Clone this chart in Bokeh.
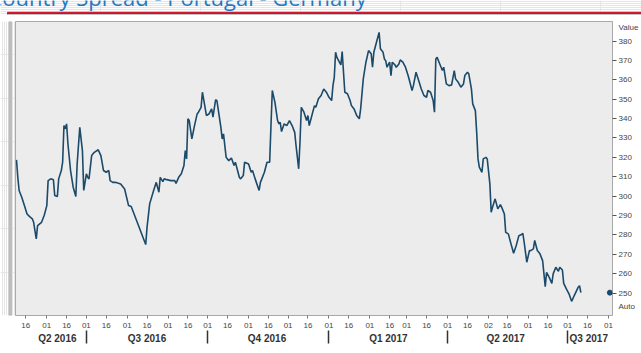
import pandas as pd
from bokeh.plotting import figure
from bokeh.layouts import column, row
from bokeh.models import FixedTicker, DatetimeAxis, Range1d
from bokeh.core.properties import value
from bokeh.embed import file_html
from bokeh.resources import INLINE

# ---- data ----
dates = [
    "2016-05-09", "2016-05-10", "2016-05-11", "2016-05-13", "2016-05-15", "2016-05-17", "2016-05-19",
    "2016-05-21", "2016-05-22", "2016-05-24", "2016-05-25", "2016-05-28", "2016-05-30",
    "2016-06-01", "2016-06-02", "2016-06-04", "2016-06-06", "2016-06-07", "2016-06-09", "2016-06-10",
    "2016-06-12", "2016-06-13", "2016-06-14", "2016-06-15", "2016-06-16", "2016-06-17", "2016-06-19",
    "2016-06-21", "2016-06-23", "2016-06-24", "2016-06-26", "2016-06-28", "2016-06-29",
    "2016-07-01", "2016-07-02", "2016-07-03", "2016-07-05", "2016-07-07", "2016-07-10", "2016-07-12",
    "2016-07-14", "2016-07-16", "2016-07-18", "2016-07-19", "2016-07-21", "2016-07-23", "2016-07-27",
    "2016-07-30", "2016-08-02",
    "2016-08-04", "2016-08-09", "2016-08-15", "2016-08-16", "2016-08-18", "2016-08-21", "2016-08-23",
    "2016-08-25", "2016-08-26", "2016-08-28", "2016-08-29", "2016-08-31",
    "2016-09-03", "2016-09-06", "2016-09-07", "2016-09-09", "2016-09-11", "2016-09-13", "2016-09-14",
    "2016-09-15", "2016-09-16", "2016-09-17", "2016-09-19", "2016-09-21", "2016-09-23", "2016-09-24",
    "2016-09-26", "2016-09-27", "2016-09-29", "2016-09-30",
    "2016-10-02", "2016-10-04", "2016-10-05", "2016-10-07", "2016-10-08", "2016-10-11", "2016-10-12",
    "2016-10-13", "2016-10-15", "2016-10-17", "2016-10-19", "2016-10-21", "2016-10-22", "2016-10-25",
    "2016-10-26", "2016-10-28", "2016-10-29", "2016-11-01",
    "2016-11-03", "2016-11-04", "2016-11-06", "2016-11-09", "2016-11-10", "2016-11-13", "2016-11-15",
    "2016-11-17", "2016-11-18", "2016-11-19", "2016-11-21", "2016-11-23", "2016-11-24", "2016-11-25",
    "2016-11-26", "2016-11-28", "2016-11-30",
    "2016-12-02", "2016-12-04", "2016-12-06", "2016-12-07", "2016-12-09", "2016-12-10", "2016-12-11",
    "2016-12-13", "2016-12-15", "2016-12-16", "2016-12-17", "2016-12-19", "2016-12-21", "2016-12-22",
    "2016-12-24", "2016-12-26", "2016-12-28", "2016-12-30",
    "2017-01-01", "2017-01-03", "2017-01-04", "2017-01-05", "2017-01-06", "2017-01-07", "2017-01-10",
    "2017-01-11", "2017-01-12", "2017-01-13", "2017-01-15", "2017-01-17", "2017-01-18", "2017-01-20",
    "2017-01-22", "2017-01-24", "2017-01-25", "2017-01-27", "2017-01-29", "2017-01-31",
    "2017-02-02", "2017-02-03", "2017-02-04", "2017-02-06", "2017-02-08", "2017-02-09", "2017-02-11",
    "2017-02-12", "2017-02-13", "2017-02-14", "2017-02-16", "2017-02-17", "2017-02-18", "2017-02-20",
    "2017-02-21", "2017-02-23", "2017-02-24", "2017-02-26", "2017-02-28",
    "2017-03-02", "2017-03-05", "2017-03-06", "2017-03-08", "2017-03-10", "2017-03-12", "2017-03-14",
    "2017-03-16", "2017-03-17", "2017-03-19", "2017-03-21", "2017-03-22", "2017-03-23", "2017-03-24",
    "2017-03-26", "2017-03-28", "2017-03-29", "2017-03-31",
    "2017-04-02", "2017-04-04", "2017-04-06", "2017-04-07", "2017-04-09", "2017-04-11", "2017-04-13",
    "2017-04-14", "2017-04-16", "2017-04-17", "2017-04-19", "2017-04-20", "2017-04-22", "2017-04-23",
    "2017-04-24", "2017-04-25", "2017-04-27", "2017-04-28", "2017-04-30",
    "2017-05-01", "2017-05-03", "2017-05-04", "2017-05-05", "2017-05-07", "2017-05-09", "2017-05-11",
    "2017-05-12", "2017-05-14", "2017-05-15", "2017-05-17", "2017-05-19", "2017-05-21", "2017-05-23",
    "2017-05-25", "2017-05-27", "2017-05-28", "2017-05-29", "2017-05-31",
    "2017-06-02", "2017-06-03", "2017-06-05", "2017-06-06", "2017-06-08", "2017-06-10", "2017-06-12",
    "2017-06-14", "2017-06-15", "2017-06-17", "2017-06-19", "2017-06-20", "2017-06-22", "2017-06-24",
    "2017-06-25", "2017-06-27", "2017-06-28", "2017-06-30",
    "2017-07-02", "2017-07-04", "2017-07-06", "2017-07-09", "2017-07-10", "2017-07-11",
]

spread = [
    318.7, 309.7, 302.9, 299.4, 295.1, 290.8, 289.4, 288.3, 286.5, 277.9, 284.8, 286.5, 290,
    295.1, 308, 308.9, 308.4, 300.3, 299.8, 308.9, 313.2, 317.5, 336.4, 334.7, 337.3, 327, 313.2,
    304.6, 299.8, 316.6, 335.5, 323.5, 302.9,
    311.5, 309.7, 308.9, 320.9, 322.6, 323.9, 320.9, 313.2, 312.3, 313.2, 308, 307.1, 307.1, 306.3,
    303.7, 295.1,
    294.6, 285.7, 275, 283.9, 296, 302.9, 307.1, 302, 309.7, 307.5, 308.9, 308.5,
    308, 308, 306.6, 309.7, 311.5, 315.8, 323.5, 319.2, 339.9, 339, 329.5, 336.4, 342.4, 343.3,
    345.8, 353.6, 345.8, 341.6,
    342.4, 345, 340.7, 349.7, 349.3, 335.5, 329.5, 332.1, 320, 318.3, 319.7, 315.8, 317.5, 309.7,
    308.9, 310.6, 317.5, 316.6,
    312.3, 313.2, 308.9, 302.9, 307.1, 312.3, 317.5, 317.5, 336.4, 354.5, 348.4, 339, 337.3, 338.1,
    333.3, 337.3, 336.4,
    339, 336.4, 332.9, 326.1, 314.1, 327.8, 345.8, 343.3, 339, 341.6, 336.4, 341.6, 346.7, 345.8,
    350.2, 351.9, 355.3, 353.6,
    351, 349.3, 357, 361.3, 374.2, 371.6, 367.7, 374.6, 363.9, 353.6, 352.8, 349.3, 346.7, 345,
    341.6, 339.9, 345, 360.5, 369.1, 375.1,
    373.4, 366.5, 374.2, 379.4, 384.5, 376, 374.2, 370.8, 369.9, 366.5, 369.1, 362.2, 369.1, 367.7,
    366.5, 368.2, 370.3, 369.1, 366.5,
    362.2, 354.5, 357, 363.9, 359.6, 355.3, 351.9, 351, 354.5, 353.6, 349.3, 343.3, 370.8, 371.6,
    368.2, 364.8, 366.5, 357.9,
    357, 357.4, 364.8, 360.5, 358.7, 356.2, 357.9, 362.2, 363.9, 363.1, 355.3, 347.6, 344.1, 332.9,
    319.2, 314.9, 312.3, 319.2, 320,
    319.2, 306.3, 291.7, 294.2, 298.6, 293.4, 295.6, 294.2, 290.8, 281.3, 280.5, 275.4, 270.5, 274.5,
    279.6, 280.2, 280.8, 276.2, 265.9,
    271.9, 271.9, 272.8, 277.1, 271.9, 270.2, 266.7, 253.3, 260.7, 258.1, 255, 259.9, 263.3, 261.2,
    263.3, 261.9, 255, 252.1,
    249.6, 245.7, 248.7, 253, 253.8, 250.2,
]

y_ticks = [250, 260, 270, 280, 290, 300, 310, 320, 330, 340, 350, 360, 370, 380]
value_label_level = 387      # where the "Value" caption sits on the right scale
auto_label_level = 243       # where the "Auto" button sits on the right scale

day_ticks = [
    "2016-05-16", "2016-06-01", "2016-06-16", "2016-07-01", "2016-07-16", "2016-08-01", "2016-08-16",
    "2016-09-01", "2016-09-16", "2016-10-01", "2016-10-16", "2016-11-01", "2016-11-16", "2016-12-01",
    "2016-12-16", "2017-01-01", "2017-01-16", "2017-02-01", "2017-02-16", "2017-03-01", "2017-03-16",
    "2017-04-01", "2017-04-16", "2017-05-02", "2017-05-16", "2017-06-01", "2017-06-16", "2017-07-01",
    "2017-07-16", "2017-08-01",
]

quarter_labels = ["Q2 2016", "Q3 2016", "Q4 2016", "Q1 2017", "Q2 2017", "Q3 2017"]
quarter_label_dates = ["2016-06-09", "2016-08-16", "2016-11-15", "2017-02-15", "2017-05-15", "2017-07-17"]
quarter_bounds = ["2016-07-01", "2016-10-01", "2017-01-01", "2017-04-01", "2017-07-01"]

last_marker_date = "2017-08-02"   # last-value marker on the right edge

title_text = "Country Spread - Portugal - Germany"
axis_title = "Value"
auto_text = "Auto"

FONT = "Liberation Sans"
LINE = "#1b4a6a"


def ms(d):
    return pd.Timestamp(d).value / 1e6


def bare(fig):
    fig.outline_line_color = None
    fig.background_fill_color = "#ffffff"
    fig.border_fill_color = "#ffffff"
    fig.min_border_left = fig.min_border_right = 0
    fig.min_border_top = fig.min_border_bottom = 0
    return fig


# ---- header strip: clipped title + red rule ----
top = bare(figure(width=641, height=15, x_range=Range1d(0, 641), y_range=Range1d(0, 15),
                  x_axis_location=None, y_axis_location=None,
                  output_backend="svg", toolbar_location=None))
top.text(x=[-12], y=[18.5], text=[title_text], text_font=value("Open Sans"), text_font_size="22px",
         text_color="#1f78c1", text_baseline="alphabetic", text_align="left")
top.quad(left=[7], right=[641], bottom=[1], top=[3.2], color="#d0102a")
top.quad(left=[7], right=[641], bottom=[0], top=[1], color="#c4c4c4")

# ---- left strip: panel border ----
left = bare(figure(width=15, height=338, x_range=Range1d(0, 15), y_range=Range1d(0, 338),
                   x_axis_location=None, y_axis_location=None,
                   output_backend="svg", toolbar_location=None))
left.quad(left=[8.5], right=[11], bottom=[0], top=[338], color="#bdbdbd")

# ---- main chart ----
x_start = pd.Timestamp("2016-05-08 06:00")
x_end = pd.Timestamp("2017-08-04")

p = figure(width=626, height=338, x_axis_type="datetime", y_axis_location="right",
           x_range=Range1d(x_start, x_end), y_range=Range1d(238.4, 390.1),
           output_backend="svg", toolbar_location=None,
           min_border_left=0, min_border_right=26, min_border_top=6, min_border_bottom=38)

p.background_fill_color = "#ececec"
p.border_fill_color = "#ffffff"
p.outline_line_color = "#a9a9a9"
p.xgrid.visible = False
p.ygrid.visible = False

p.line(x=pd.to_datetime(dates), y=spread, line_color=LINE, line_width=1.6)
p.circle(x=pd.to_datetime([last_marker_date]), y=[spread[-1]], radius=1.9 * 86400000,
         fill_color=LINE, line_color=LINE)

# day-of-month axis
xa = p.xaxis[0]
xa.ticker = FixedTicker(ticks=[ms(d) for d in day_ticks])
xa.major_label_overrides = {ms(d): d[-2:] for d in day_ticks}
xa.axis_line_color = None
xa.major_tick_out = 3
xa.major_tick_in = 0
xa.major_tick_line_color = "#777777"
xa.minor_tick_line_color = None
xa.major_label_standoff = 4
xa.major_label_text_font = FONT
xa.major_label_text_font_size = "8px"
xa.major_label_text_color = "#444444"

# quarter axis with separators
qa = DatetimeAxis(ticker=FixedTicker(ticks=[ms(d) for d in quarter_label_dates],
                                     minor_ticks=[ms(d) for d in quarter_bounds]))
qa.major_label_overrides = {ms(d): t for d, t in zip(quarter_label_dates, quarter_labels)}
qa.axis_line_color = None
qa.major_tick_line_color = None
qa.major_tick_out = 0
qa.major_tick_in = 0
qa.minor_tick_line_color = "#333333"
qa.minor_tick_line_width = 1.5
qa.minor_tick_out = 13
qa.minor_tick_in = 0
qa.major_label_standoff = -11
qa.major_label_text_font = FONT
qa.major_label_text_font_size = "10px"
qa.major_label_text_font_style = "bold"
qa.major_label_text_color = "#333333"
p.add_layout(qa, "below")

# value axis (right), with its caption and Auto button as labels on the scale
ya = p.yaxis[0]
ya.ticker = FixedTicker(ticks=y_ticks + [value_label_level, auto_label_level], minor_ticks=y_ticks)
ya.major_label_overrides = {value_label_level: axis_title, auto_label_level: auto_text}
ya.axis_line_color = None
ya.major_tick_out = 4
ya.major_tick_in = 0
ya.major_tick_line_color = None
ya.minor_tick_out = 4
ya.minor_tick_in = 0
ya.minor_tick_line_color = "#555555"
ya.major_label_standoff = 2
ya.major_label_text_font = FONT
ya.major_label_text_font_size = "8px"
ya.major_label_text_color = "#444444"

layout = column(top, row(left, p, spacing=0), spacing=0)

open("out.html", "w").write(file_html(layout, INLINE))
